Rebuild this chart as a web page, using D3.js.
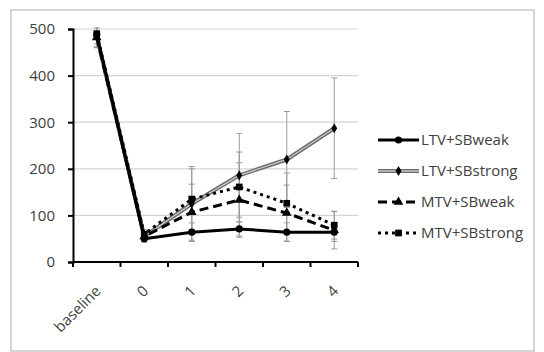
<!DOCTYPE html>
<html><head><meta charset="utf-8">
<script src="https://cdn.jsdelivr.net/npm/d3@7"></script>
<style>body{margin:0;background:#fff}svg{display:block}</style>
</head><body>
<svg id="c" width="544" height="352"></svg>
<script>
const categories = ["baseline","0","1","2","3","4"];
const seriesNames = ["LTV+SBweak","LTV+SBstrong","MTV+SBweak","MTV+SBstrong"];
const ltvWeak   = [488, 50, 64, 71, 64, 64];
const ltvStrong = [485, 55, 125, 186, 220, 287];
const mtvWeak   = [482, 55, 107, 133, 105, 68];
const mtvStrong = [490, 60, 135, 161, 126, 79];
const ltvWeakErr   = [20, 8, 20, 15, 20, 20];
const ltvStrongErr = [25, 10, 80, 90, 103, 108];
const mtvWeakErr   = [20, 8, 60, 80, 60, 40];
const mtvStrongErr = [30, 10, 65, 75, 65, 30];
const yTicks = [0,100,200,300,400,500];

const values = [ltvWeak, ltvStrong, mtvWeak, mtvStrong];
const errs = [ltvWeakErr, ltvStrongErr, mtvWeakErr, mtvStrongErr];

const svg = d3.select("#c");
svg.append("rect").attr("x",11).attr("y",10).attr("width",523).attr("height",341)
  .attr("fill","#fff").attr("stroke","#c8c8c8").attr("stroke-width",1.5);

const x = d3.scaleBand().domain(categories).range([73,358]);
const y = d3.scaleLinear().domain([0,500]).range([262,29]);
const cx = c => x(c) + x.bandwidth()/2;
const textColor = "#404040";
const font = "'Open Sans', 'Liberation Sans', sans-serif";

svg.append("clipPath").attr("id","plotclip").append("rect")
  .attr("x",60).attr("y",27).attr("width",310).attr("height",250);

// gridlines
svg.append("g").selectAll("line").data(yTicks.filter(t=>t>0)).join("line")
  .attr("x1",73).attr("x2",358).attr("y1",d=>y(d)).attr("y2",d=>y(d))
  .attr("stroke","#d4d4d4").attr("stroke-width",1.2);

// y axis
const ya = svg.append("g").attr("transform","translate(73,0)")
  .call(d3.axisLeft(y).tickValues(yTicks).tickSize(5).tickPadding(13));
ya.select(".domain").attr("stroke","#000").attr("stroke-width",2);
ya.selectAll(".tick line").attr("stroke","#000").attr("stroke-width",2);
ya.selectAll(".tick text").attr("fill",textColor).style("font-family",font).style("font-size","15px");

// x axis
const xa = svg.append("g").attr("transform","translate(0,262)")
  .call(d3.axisBottom(x).tickSize(0).tickPadding(0));
xa.select(".domain").attr("stroke","#000").attr("stroke-width",2).attr("d","M73,0H358");
xa.selectAll(".tick text").attr("fill",textColor).style("font-family",font).style("font-size","15px")
  .attr("text-anchor","end").attr("dy",0)
  .attr("transform","translate(5,30) rotate(-45)");
xa.append("g").selectAll("line").data(d3.range(categories.length+1)).join("line")
  .attr("x1",i=>x.range()[0]+i*x.step()).attr("x2",i=>x.range()[0]+i*x.step())
  .attr("y1",0).attr("y2",5).attr("stroke","#000").attr("stroke-width",2);

// error bars
const eb = svg.append("g").attr("stroke","#9a9a9a").attr("stroke-width",1).attr("clip-path","url(#plotclip)");
values.forEach((vals,s)=>{
  vals.forEach((v,i)=>{
    const e = errs[s][i], px = cx(categories[i]);
    eb.append("line").attr("x1",px).attr("x2",px).attr("y1",y(v+e)).attr("y2",y(v-e));
    eb.append("line").attr("x1",px-3).attr("x2",px+3).attr("y1",y(v+e)).attr("y2",y(v+e));
    eb.append("line").attr("x1",px-3).attr("x2",px+3).attr("y1",y(v-e)).attr("y2",y(v-e));
  });
});

const line = d3.line().x((d,i)=>cx(categories[i])).y(d=>y(d));
const styles = [
  {stroke:"#000", w:3, dash:null, sym:d3.symbolCircle, size:40},
  {stroke:"#6a6a6a", w:4, dash:null, sym:d3.symbolDiamond, size:30, inner:"#c8c8c8"},
  {stroke:"#000", w:3, dash:"9,5", sym:d3.symbolTriangle, size:40},
  {stroke:"#000", w:3, dash:"3,4", sym:d3.symbolSquare, size:45}
];
const order = [1,2,3,0];
order.forEach(s=>{
  const st = styles[s];
  const g = svg.append("g");
  g.append("path").attr("d",line(values[s])).attr("fill","none").attr("stroke",st.stroke)
    .attr("stroke-width",st.w).attr("stroke-dasharray",st.dash).attr("stroke-linejoin","round");
  if(st.inner) g.append("path").attr("d",line(values[s])).attr("fill","none").attr("stroke",st.inner).attr("stroke-width",1.3);
  g.selectAll("path.m").data(values[s]).join("path").attr("class","m")
    .attr("d",d3.symbol().type(st.sym).size(st.size))
    .attr("transform",(d,i)=>`translate(${cx(categories[i])},${y(d)})`).attr("fill","#000");
});

// legend
const lg = svg.append("g");
seriesNames.forEach((n,s)=>{
  const st = styles[s], ly = 140 + s*31;
  lg.append("line").attr("x1",378).attr("x2",419).attr("y1",ly).attr("y2",ly)
    .attr("stroke",st.stroke).attr("stroke-width",st.w).attr("stroke-dasharray",st.dash);
  if(st.inner) lg.append("line").attr("x1",378).attr("x2",419).attr("y1",ly).attr("y2",ly).attr("stroke",st.inner).attr("stroke-width",1.3);
  lg.append("path").attr("d",d3.symbol().type(st.sym).size(st.size)).attr("transform",`translate(398.5,${ly})`).attr("fill","#000");
  lg.append("text").attr("x",421).attr("y",ly+5).text(n).attr("fill",textColor)
    .style("font-family",font).style("font-size","15px");
});
</script>
</body></html>
